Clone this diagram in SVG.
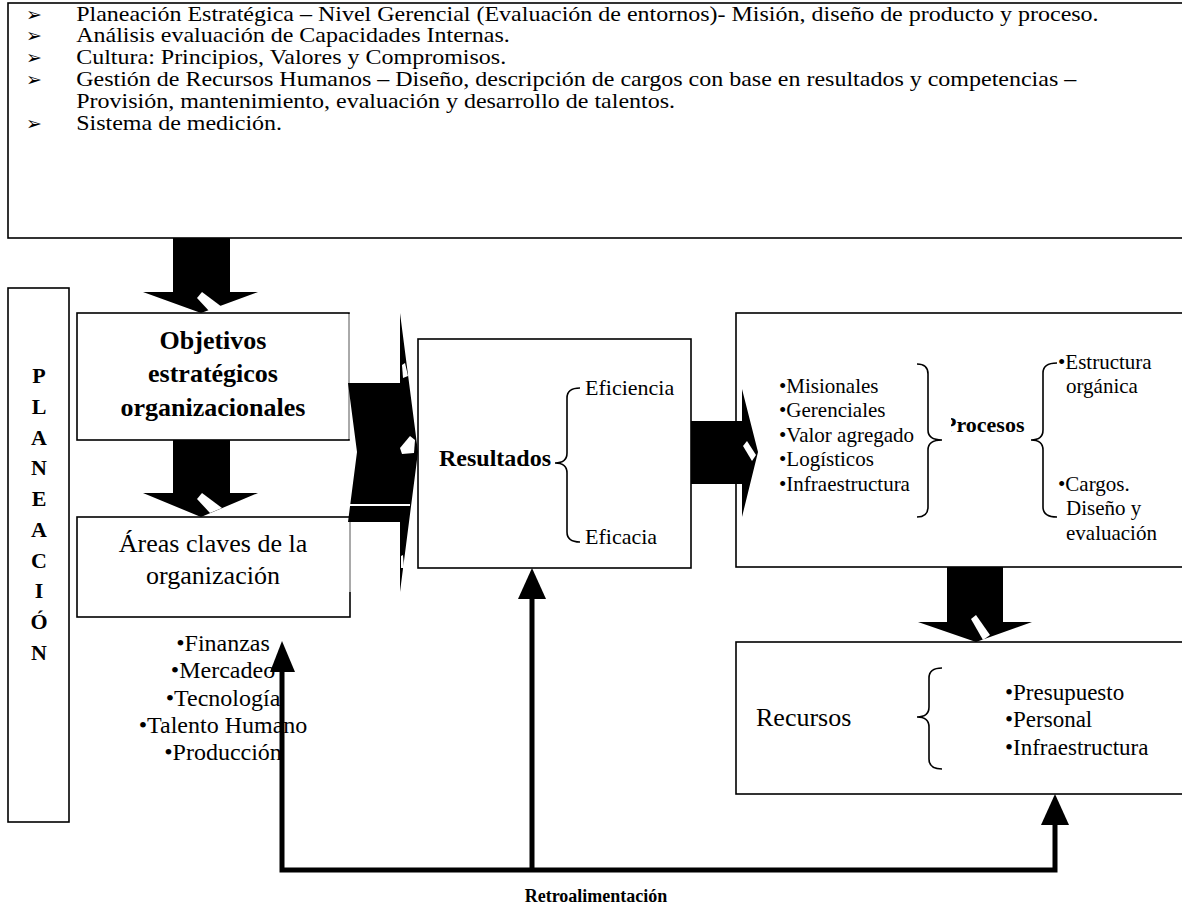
<svg xmlns="http://www.w3.org/2000/svg" width="1182" height="907" viewBox="0 0 1182 907">
<defs>
<style>
.box{fill:#fff;stroke:#000;stroke-width:1.6}
.t{font-family:"Liberation Serif","Times New Roman",serif;fill:#000}
.b{font-weight:bold}
.brace{fill:none;stroke:#000;stroke-width:1.6}
.fb{fill:none;stroke:#000;stroke-width:5}
.blk{fill:#000}
.wh{fill:#fff}
.grey{stroke:#c8c8c8;stroke-width:1.6}
.bul{font-family:"DejaVu Sans",sans-serif;font-size:19px;fill:#000}
</style>
<clipPath id="pclip"><rect x="951" y="400" width="100" height="50"/></clipPath>
</defs>

<g id="header">
<rect class="box" x="8" y="3" width="1190" height="235"/>
<g class="bul">
<text x="26" y="21">➢</text>
<text x="26" y="42">➢</text>
<text x="26" y="64">➢</text>
<text x="26" y="86">➢</text>
<text x="26" y="130">➢</text>
</g>
<g class="t" font-size="20" transform="scale(1.2,1)">
<text x="63.5" y="21">Planeación Estratégica – Nivel Gerencial (Evaluación de entornos)- Misión, diseño de producto y proceso.</text>
<text x="63.5" y="42">Análisis evaluación de Capacidades Internas.</text>
<text x="63.5" y="64">Cultura: Principios, Valores y Compromisos.</text>
<text x="63.5" y="86">Gestión de Recursos Humanos – Diseño, descripción de cargos con base en resultados y competencias –</text>
<text x="63.5" y="108">Provisión, mantenimiento, evaluación y desarrollo de talentos.</text>
<text x="63.5" y="130">Sistema de medición.</text>
</g>
</g>

<g id="planeacion">
<rect class="box" x="8" y="288" width="61" height="534"/>
<g class="t b" font-size="22" text-anchor="middle">
<text x="39" y="383">P</text>
<text x="39" y="414">L</text>
<text x="39" y="445">A</text>
<text x="39" y="475">N</text>
<text x="39" y="506">E</text>
<text x="39" y="537">A</text>
<text x="39" y="568">C</text>
<text x="39" y="598">I</text>
<text x="39" y="629">Ó</text>
<text x="39" y="660">N</text>
</g>
</g>

<g id="objetivos">
<rect class="box" x="77" y="313" width="272" height="127"/>
<line class="grey" x1="349" y1="314" x2="349" y2="439"/>
<g class="t b" font-size="26" text-anchor="middle">
<text x="213" y="349">Objetivos</text>
<text x="213" y="382">estratégicos</text>
<text x="213" y="416">organizacionales</text>
</g>
</g>

<g id="areas">
<rect class="box" x="77" y="517" width="273" height="100"/>
<line class="grey" x1="350" y1="518" x2="350" y2="592"/>
<g class="t" font-size="26" text-anchor="middle">
<text x="213" y="552">Áreas claves de la</text>
<text x="213" y="584">organización</text>
</g>
<g class="t" font-size="24" text-anchor="middle">
<text x="223" y="651">•Finanzas</text>
<text x="223" y="678">•Mercadeo</text>
<text x="223" y="706">•Tecnología</text>
<text x="223" y="733">•Talento Humano</text>
<text x="223" y="760">•Producción</text>
</g>
</g>

<g id="resultados">
<rect class="box" x="418" y="339" width="273" height="229"/>
<text class="t b" font-size="24" x="439" y="466">Resultados</text>
<path class="brace" d="M580,388 Q567,388 567,398 L567,453 Q567,463 555,463 Q567,463 567,473 L567,532 Q567,542 580,542"/>
<g class="t" font-size="22">
<text x="585" y="395">Eficiencia</text>
<text x="585" y="544">Eficacia</text>
</g>
</g>

<g id="procesos">
<rect class="box" x="736" y="313" width="460" height="254"/>
<g class="t" font-size="21">
<text x="779" y="393">•Misionales</text>
<text x="779" y="417">•Gerenciales</text>
<text x="779" y="442">•Valor agregado</text>
<text x="779" y="466">•Logísticos</text>
<text x="779" y="491">•Infraestructura</text>
</g>
<path class="brace" d="M917,364 Q928,364 928,374 L928,430 Q928,440 942,440 Q928,440 928,450 L928,507 Q928,517 917,517"/>
<text class="t b" font-size="22" x="943" y="432" clip-path="url(#pclip)">Procesos</text>
<path class="brace" d="M1057,363 Q1043,363 1043,373 L1043,430 Q1043,440 1031,440 Q1043,440 1043,450 L1043,507 Q1043,517 1057,517"/>
<g class="t" font-size="21">
<text x="1058" y="369">•Estructura</text>
<text x="1066" y="393">orgánica</text>
<text x="1058" y="491">•Cargos.</text>
<text x="1066" y="515">Diseño y</text>
<text x="1066" y="540">evaluación</text>
</g>
</g>

<g id="recursos">
<rect class="box" x="736" y="642" width="460" height="152"/>
<text class="t" font-size="26" x="756" y="726">Recursos</text>
<path class="brace" d="M942,668 Q929,668 929,678 L929,707 Q929,717 917,717 Q929,717 929,727 L929,759 Q929,769 942,769"/>
<g class="t" font-size="23">
<text x="1005" y="700">•Presupuesto</text>
<text x="1005" y="727">•Personal</text>
<text x="1005" y="755">•Infraestructura</text>
</g>
</g>

<g id="connectors">
<polygon class="blk" points="173,238 230,238 230,292 258,292 201,313 143,292 173,292"/>
<polygon class="wh" points="197,298 202,292 222,307 210,312"/>
<polygon class="blk" points="173,440 230,440 230,493 258,493 201,517 143,493 173,493"/>
<polygon class="wh" points="197,499 202,493 222,508 210,513"/>
<polygon class="blk" points="348,383 400,383 400,313 418,452 400,592 400,522 348,522 357,452"/>
<line x1="350" y1="505" x2="410" y2="505" stroke="#fff" stroke-width="2"/>
<polygon class="wh" points="402,365 405,363 408,376 403,378"/>
<polygon class="wh" points="400,448 410,436 415,440 414,453 402,454"/>
<polygon class="wh" points="401,556 403,555 404,568 401,568"/>
<polygon class="blk" points="691,421 742,421 742,389 758,452 742,517 742,484 691,484"/>
<polygon class="wh" points="743,446 747,441 756,455 752,461"/>
<polygon class="blk" points="947,567 1003,567 1003,622 1032,622 976,642 918,622 947,622"/>
<polygon class="wh" points="971,619 976,615 990,635 983,640"/>
<polyline class="fb" points="282,672 282,870 1055,870 1055,824"/>
<polygon class="blk" points="282,641 270,672 295,672"/>
<line class="fb" x1="532" y1="870" x2="532" y2="598"/>
<polygon class="blk" points="532,568 518,599 546,599"/>
<polygon class="blk" points="1055,794 1041,825 1069,825"/>
<text class="t b" font-size="18" x="596" y="902" text-anchor="middle">Retroalimentación</text>
</g>
</svg>
